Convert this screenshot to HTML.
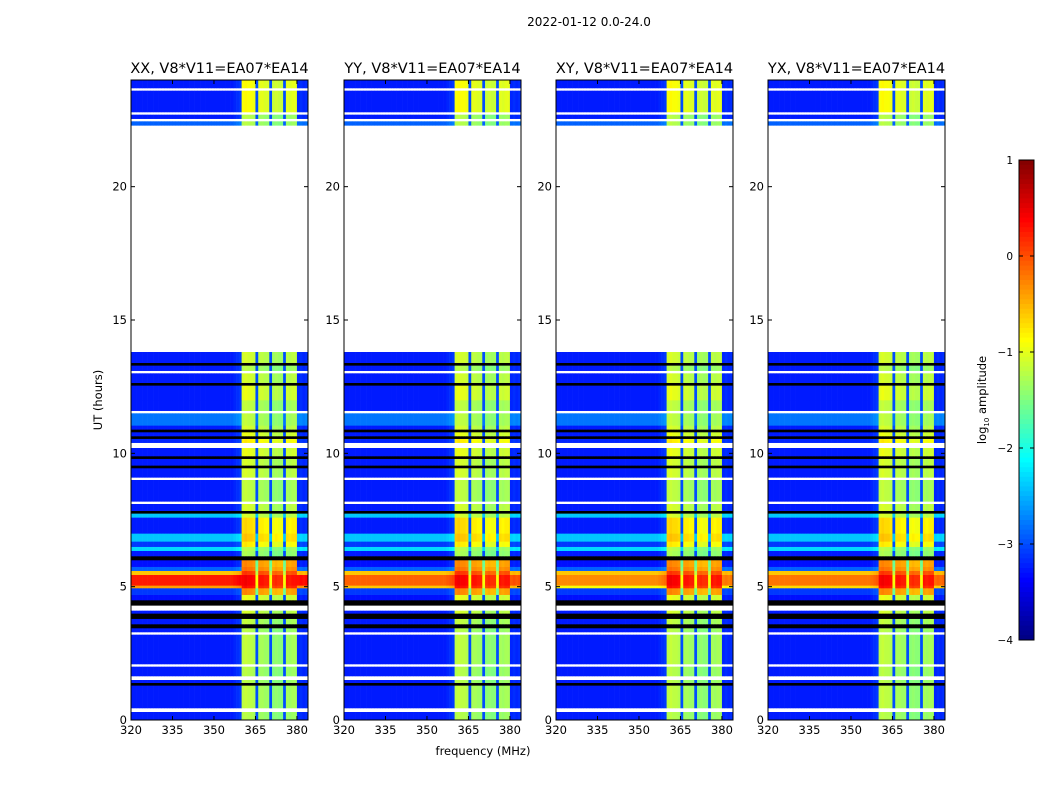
<!DOCTYPE html>
<html><head><meta charset="utf-8"><style>
body{margin:0;background:#fff;}
svg text{font-family:"DejaVu Sans","Liberation Sans",sans-serif;fill:#000;}
</style></head><body>
<svg id="fig" width="1050" height="800" xmlns="http://www.w3.org/2000/svg">
<text x="589" y="26" font-size="12" text-anchor="middle">2022-01-12 0.0-24.0</text>
<text x="483" y="755" font-size="11.5" text-anchor="middle">frequency (MHz)</text>
<text transform="translate(102,400) rotate(-90)" font-size="11.5" text-anchor="middle">UT (hours)</text>
<g id="panels"></g>
<g id="cbar"></g>
<text transform="translate(986,400) rotate(-90)" font-size="11.5" text-anchor="middle">log<tspan font-size="7" dy="3">10</tspan><tspan dy="-3"> amplitude</tspan></text>
</svg>
<script>
// ---- data ----
const panelTitles = ["XX, V8*V11=EA07*EA14","YY, V8*V11=EA07*EA14","XY, V8*V11=EA07*EA14","YX, V8*V11=EA07*EA14"];
const xTicks = [320,335,350,365,380];
const yTicks = [0,5,10,15,20];
const cbarTicks = [1,0,-1,-2,-3,-4];
// channel profile, 1 MHz channels from 320 to 383 MHz; 'b' band, 'x' gap, 'g' background
const chanStart = 320;
const chanKind = ["g","g","g","g","g","g","g","g","g","g","g","g","g","g","g","g","g","g","g","g","g","g","g","g","g","g","g","g","g","g","g","g","g","g","g","g","g","g","g","g",
 "b","b","b","b","b","x","b","b","b","b","x","b","b","b","b","x","b","b","b","b","g","g","g","g"];
const chanOffset = [0,0,0,0,0,0,0,0,0,0,0,0,0,0,0,0,0,0,0,0,0,0,0,0,0,0,0,0,0,0,0,0,0,0,0,0,0,0.05,0.1,0.15,
 0.1,0.15,0.1,0.1,0.05,0,0,0.0,-0.05,-0.05,0,-0.15,-0.1,-0.15,-0.15,0,0.0,-0.05,0.0,0.0,0.05,0.1,0.05,0.1];
// time segments: [startHr, endHr, bgLevel, bandLevel] ; bg null => black(flagged), 'w' => blank
const segStart = [0,0.3,0.45,1.3,1.4,1.5,1.65,2.0,2.1,2.2,3.2,3.3,3.45,3.6,3.8,4.0,4.1,4.3,4.5,4.7,4.95,5.05,5.45,5.6,5.75,6.0,6.15,6.35,6.5,6.7,7.0,7.6,7.75,7.85,8.1,8.2,9.0,9.1,9.45,9.55,9.8,9.9,10.2,10.4,10.55,10.65,10.8,10.9,11.05,11.5,11.6,12.0,12.55,12.65,13.0,13.1,13.3,13.4,13.8,22.3,22.45,22.55,22.7,22.8,23.6,23.7];
const segEnd   = [0.3,0.45,1.3,1.4,1.5,1.65,2.0,2.1,2.2,3.2,3.3,3.45,3.6,3.8,4.0,4.1,4.3,4.5,4.7,4.95,5.05,5.45,5.6,5.75,6.0,6.15,6.35,6.5,6.7,7.0,7.6,7.75,7.85,8.1,8.2,9.0,9.1,9.45,9.55,9.8,9.9,10.2,10.4,10.55,10.65,10.8,10.9,11.05,11.5,11.6,12.0,12.55,12.65,13.0,13.1,13.3,13.4,13.8,22.3,22.45,22.55,22.7,22.8,23.6,23.7,24];
const segBg    = [-3.25,"w",-3.25,null,-3.25,"w",-3.25,"w",-3.25,-3.25,"w",-3.25,null,-3.25,null,-3.25,"w",null,-3.3,-3.1,"hot","hot",-0.6,-2.9,-3.3,null,-3.25,-2.3,-3.1,-2.4,-3.25,-2.4,null,-3.25,"w",-3.25,"w",-3.25,null,-3.25,null,-3.25,"w",-3.2,null,-3.25,null,-3.25,-2.8,"w",-3.25,-3.25,null,-3.25,"w",-3.25,null,-3.25,"w",-2.9,"w",-3.25,"w",-3.25,"w",-3.25];
const segBand  = [-1.35,"w",-1.3,null,-1.35,"w",-1.35,"w",-1.3,-1.3,"w",-1.35,null,-1.3,null,-1.2,"w",null,-1.1,-0.4,0.2,0.3,0.0,-0.3,-0.4,null,-1.4,-1.35,-0.9,-0.7,-0.8,-1.2,null,-1.2,"w",-1.3,"w",-1.2,null,-1.2,null,-1.1,"w",-0.9,null,-1.1,null,-1.2,-1.3,"w",-1.3,-1.1,null,-1.2,"w",-1.35,null,-1.2,"w",-1.35,"w",-1.35,"w",-1.0,"w",-1.0];
const hotLevel = [[-0.4,0.25],[-0.6,-0.1],[-0.9,-0.3],[-0.7,-0.2]]; // per panel for 'hot' rows

// ---- geometry ----
const panelX=[131,344,556,768], PW=177, PT=80, PH=640;
const fx=f=>(f-320)/ (384-320) * PW;
const ty=t=>PT+PH-(t/24)*PH;
function jet(v){let t=Math.max(0,Math.min(1,(v+4)/5));
 const c=x=>Math.round(255*Math.max(0,Math.min(1,1.5-Math.abs(4*t-x))));
 return `rgb(${c(3)},${c(2)},${c(1)})`;}
const NS="http://www.w3.org/2000/svg";
function mk(tag,attrs,parent){const e=document.createElementNS(NS,tag);for(const k in attrs)e.setAttribute(k,attrs[k]);parent.appendChild(e);return e;}
const root=document.getElementById('panels');
panelTitles.forEach((title,p)=>{
 const g=mk('g',{transform:`translate(${panelX[p]},0)`},root);
 
 
 const hm=mk('g',{},g);
 
 
 for(let s=0;s<segStart.length;s++){
  const y0=ty(segEnd[s]), h=ty(segStart[s])-y0;
  let bg=segBg[s], bd=segBand[s];
  if(bg==="w") continue;
  if(bg===null){const r=mk('rect',{x:0,y:y0,width:PW,height:h+0.3,fill:'#000'},hm);
   
   continue;}
  if(bg==="hot"){bg=hotLevel[p][s===20?0:1];}
  for(let c=0;c<chanKind.length;c++){
   const k=chanKind[c];
   let v = k==="b"? bd+chanOffset[c] : k==="x"? Math.max(bg,-3.0) : bg+chanOffset[c];
   if(k==="x" && bd>-0.5) v=bd-1.2;
   const r=mk('rect',{x:fx(chanStart+c),y:y0,width:fx(chanStart+c+1)-fx(chanStart+c)+0.3,height:h+0.3,fill:jet(v)},hm);
   
   
  }
 }
 const fr=mk('rect',{x:0,y:PT,width:PW,height:PH,fill:'none',stroke:'#000','stroke-width':1},g);
 
 
 const tt=mk('text',{x:PW/2,y:PT-7,'font-size':14.5,'text-anchor':'middle'},g);tt.textContent=title;
 
 
 xTicks.forEach(f=>{const x=fx(f);
  mk('line',{x1:x,x2:x,y1:PT+PH,y2:PT+PH-4,stroke:'#000'},g);
  mk('line',{x1:x,x2:x,y1:PT,y2:PT+4,stroke:'#000'},g);
  const t=mk('text',{x:x,y:PT+PH+14,'font-size':11.5,'text-anchor':'middle'},g);t.textContent=f;
  
  });
 yTicks.forEach(v=>{const y=ty(v);
  mk('line',{x1:0,x2:4,y1:y,y2:y,stroke:'#000'},g);
  mk('line',{x1:PW,x2:PW-4,y1:y,y2:y,stroke:'#000'},g);
  const t=mk('text',{x:-4,y:y+4,'font-size':11.5,'text-anchor':'end'},g);t.textContent=v;
  
  });
});
// colorbar
const cb=document.getElementById('cbar');const CX=1019,CW=15,CT=160,CH=480;
const cy=v=>CT+(1-v)/5*CH;
for(let i=0;i<100;i++){const v0=1-i*0.05;mk('rect',{x:CX,y:cy(v0),width:CW,height:CH/100+0.5,fill:jet(v0-0.025)},cb);}
mk('rect',{x:CX,y:CT,width:CW,height:CH,fill:'none',stroke:'#000'},cb);
cbarTicks.forEach(v=>{const y=cy(v);
 mk('line',{x1:CX,x2:CX+4,y1:y,y2:y,stroke:'#000'},cb);
 mk('line',{x1:CX+CW,x2:CX+CW-4,y1:y,y2:y,stroke:'#000'},cb);
 const t=mk('text',{x:CX-6,y:y+4,'font-size':10.5,'text-anchor':'end'},cb);t.textContent=(v<0?'\u2212':'')+Math.abs(v);
 
 });
</script>
</body></html>
